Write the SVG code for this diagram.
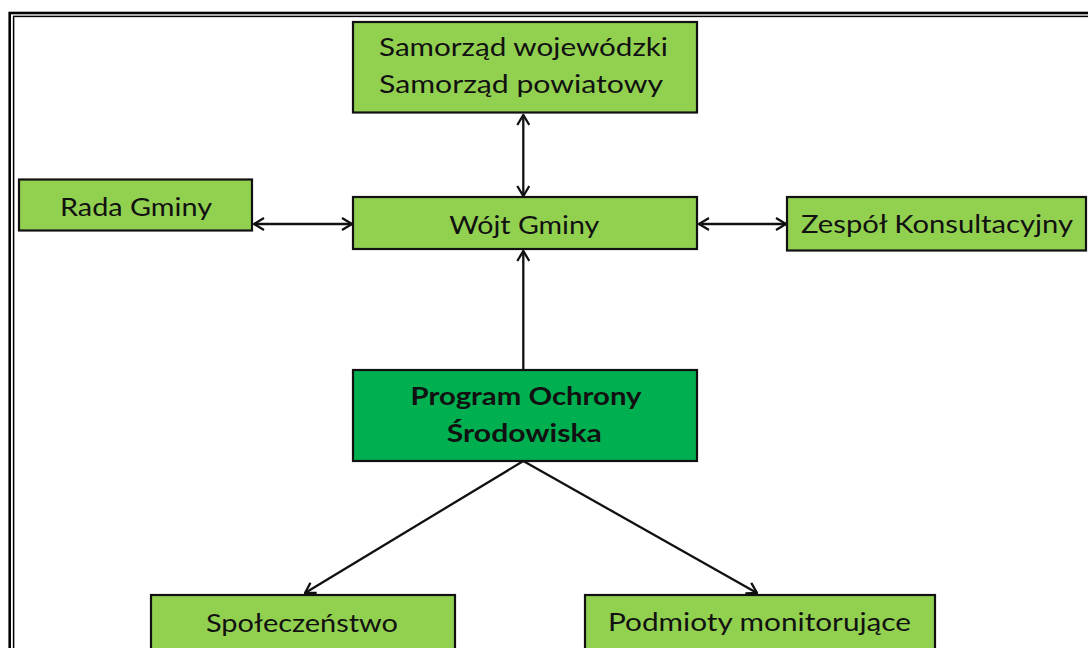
<svg xmlns="http://www.w3.org/2000/svg" width="1088" height="648" viewBox="0 0 1088 648">
<defs>
<style>
.box{fill:#92D050;stroke:#111;stroke-width:2.2}
.dark{fill:#00B050;stroke:#111;stroke-width:2.2}
.t{font-family:Lato,"Open Sans","Liberation Sans",sans-serif;font-size:24.5px;fill:#111;text-anchor:middle}
.b{font-weight:bold}
.c{stroke:#111;stroke-width:2.3;fill:none}
</style>
<marker id="ah" viewBox="0 0 12 14" refX="11" refY="7" markerWidth="12" markerHeight="14" markerUnits="userSpaceOnUse" orient="auto-start-reverse">
<path d="M1,1 L11,7 L1,13" fill="none" stroke="#111" stroke-width="2.3"/>
</marker>
</defs>
<rect x="0" y="0" width="1088" height="648" fill="#fff"/>
<g id="frame" fill="none" stroke="#000">
<rect x="9.7" y="13" width="1100" height="700" stroke-width="2.6"/>
<rect x="13.6" y="16.4" width="1100" height="700" stroke-width="1.5"/>
</g>
<g id="connectors" class="c">
<line x1="523.3" y1="115" x2="523.3" y2="196" marker-start="url(#ah)" marker-end="url(#ah)"/>
<line x1="254" y1="224" x2="352" y2="224" marker-start="url(#ah)" marker-end="url(#ah)"/>
<line x1="699" y1="224" x2="786" y2="224" marker-start="url(#ah)" marker-end="url(#ah)"/>
<line x1="523.3" y1="370" x2="523.3" y2="251" marker-end="url(#ah)"/>
<line x1="523.3" y1="461" x2="305" y2="593" marker-end="url(#ah)"/>
<line x1="523.3" y1="461" x2="757" y2="593" marker-end="url(#ah)"/>
</g>
<g id="samorzad">
<rect class="box" x="353" y="22" width="344" height="90.5"/>
<text class="t" x="523.5" y="56" textLength="289" lengthAdjust="spacingAndGlyphs">Samorząd wojewódzki</text>
<text class="t" x="521" y="93" textLength="284" lengthAdjust="spacingAndGlyphs">Samorząd powiatowy</text>
</g>
<g id="rada">
<rect class="box" x="19" y="179.5" width="233" height="51"/>
<text class="t" x="136" y="216" textLength="152" lengthAdjust="spacingAndGlyphs">Rada Gminy</text>
</g>
<g id="wojt">
<rect class="box" x="353" y="197" width="344" height="52"/>
<text class="t" x="524.3" y="234" textLength="150" lengthAdjust="spacingAndGlyphs">Wójt Gminy</text>
</g>
<g id="zespol">
<rect class="box" x="787" y="197" width="299" height="53.5"/>
<text class="t" x="937" y="233" textLength="272" lengthAdjust="spacingAndGlyphs">Zespół Konsultacyjny</text>
</g>
<g id="program">
<rect class="dark" x="353" y="370" width="344" height="91"/>
<text class="t b" x="526" y="405" textLength="231" lengthAdjust="spacingAndGlyphs">Program Ochrony</text>
<text class="t b" x="524.3" y="442" textLength="155" lengthAdjust="spacingAndGlyphs">Środowiska</text>
</g>
<g id="spoleczenstwo">
<rect class="box" x="151" y="595" width="304" height="70"/>
<text class="t" x="302" y="632" textLength="192" lengthAdjust="spacingAndGlyphs">Społeczeństwo</text>
</g>
<g id="podmioty">
<rect class="box" x="585" y="595" width="350" height="70"/>
<text class="t" x="759.5" y="631" textLength="303" lengthAdjust="spacingAndGlyphs">Podmioty monitorujące</text>
</g>
</svg>
